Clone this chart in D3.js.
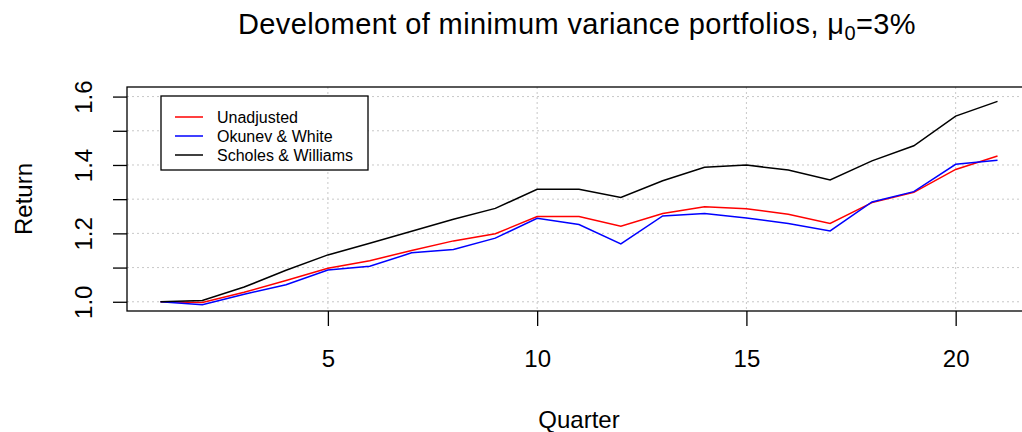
<!DOCTYPE html>
<html>
<head>
  <style>
  body { margin: 0; background: #fff; }
  text { font-family: "Liberation Sans", Arial, sans-serif; }
  </style>
  <script src="https://cdn.jsdelivr.net/npm/d3@7"></script>
</head>
<body>
  <script>
  // quarters 1..21
  var quarters = d3.range(1, 22);
  var unadjusted = [1.000, 0.998, 1.028, 1.062, 1.098, 1.120, 1.150, 1.178, 1.199, 1.249, 1.249, 1.221, 1.258, 1.278, 1.272, 1.256, 1.229, 1.290, 1.320, 1.387, 1.426];
  var okunevWhite = [1.000, 0.991, 1.022, 1.050, 1.093, 1.104, 1.143, 1.153, 1.186, 1.244, 1.226, 1.169, 1.251, 1.258, 1.245, 1.229, 1.207, 1.292, 1.322, 1.402, 1.414];
  var scholesWilliams = [1.000, 1.004, 1.043, 1.092, 1.137, 1.171, 1.206, 1.241, 1.273, 1.329, 1.329, 1.305, 1.354, 1.393, 1.400, 1.385, 1.356, 1.412, 1.456, 1.543, 1.586];
  var seriesNames = ["Unadjusted", "Okunev & White", "Scholes & Williams"];
  var seriesColors = ["#ff0000", "#0000ff", "#000000"];
  var xTicks = [5, 10, 15, 20];
  var yTicks = [1.0, 1.1, 1.2, 1.3, 1.4, 1.5, 1.6];
  var yLabels = [1.0, 1.2, 1.4, 1.6];

  var canvasWidth = 1022;
  var canvasHeight = 432;
  var box = {left: 127, top: 87, right: 1031, bottom: 311};

  var svg = d3.select("body")
                .append("svg")
                .attr("width", canvasWidth)
                .attr("height", canvasHeight);

  var x = d3.scaleLinear().domain([0.2, 21.8]).range([box.left, box.right]);
  var y = d3.scaleLinear().domain([0.973, 1.628]).range([box.bottom, box.top]);

  // grid
  svg.append("g").selectAll("line")
      .data(yTicks).enter().append("line")
      .attr("x1", box.left).attr("x2", box.right)
      .attr("y1", function(d) { return y(d); }).attr("y2", function(d) { return y(d); })
      .attr("stroke", "#c8c8c8").attr("stroke-dasharray", "2,3");
  svg.append("g").selectAll("line")
      .data(xTicks).enter().append("line")
      .attr("y1", box.top).attr("y2", box.bottom)
      .attr("x1", function(d) { return x(d); }).attr("x2", function(d) { return x(d); })
      .attr("stroke", "#c8c8c8").attr("stroke-dasharray", "2,3");

  // lines
  var data = [unadjusted, okunevWhite, scholesWilliams];
  var line = d3.line()
      .x(function(d, i) { return x(quarters[i]); })
      .y(function(d) { return y(d); });
  svg.append("g").selectAll("path")
      .data(data).enter().append("path")
      .attr("d", line)
      .attr("fill", "none")
      .attr("stroke", function(d, i) { return seriesColors[i]; })
      .attr("stroke-width", 1.5);

  // box
  svg.append("rect")
      .attr("x", box.left).attr("y", box.top)
      .attr("width", box.right - box.left).attr("height", box.bottom - box.top)
      .attr("fill", "none").attr("stroke", "#000").attr("stroke-width", 1.3);

  // x axis
  var xAxis = svg.append("g")
      .attr("transform", "translate(0," + box.bottom + ")")
      .call(d3.axisBottom(x).tickValues(xTicks).tickSize(15));
  xAxis.select(".domain").remove();
  xAxis.selectAll("line").attr("stroke-width", 1.3);
  xAxis.selectAll("text")
      .attr("font-size", 24).attr("fill", "#000")
      .style("font-family", "Liberation Sans, Arial, sans-serif")
      .attr("y", 56).attr("dy", 0);

  // y axis
  var yAxis = svg.append("g")
      .attr("transform", "translate(" + box.left + ",0)")
      .call(d3.axisLeft(y).tickValues(yTicks).tickSize(14)
        .tickFormat(function(d) { return yLabels.some(function(v) { return Math.abs(v - d) < 1e-9; }) ? d3.format(".1f")(d) : ""; }));
  yAxis.select(".domain").remove();
  yAxis.selectAll("line").attr("stroke-width", 1.3);
  yAxis.selectAll("text")
      .attr("font-size", 24).attr("fill", "#000")
      .style("font-family", "Liberation Sans, Arial, sans-serif")
      .attr("text-anchor", "middle")
      .attr("x", 0).attr("y", 0).attr("dy", 0)
      .attr("transform", "translate(-35,0) rotate(-90)");

  // axis titles
  svg.append("text")
      .attr("x", (box.left + box.right) / 2).attr("y", 428)
      .attr("text-anchor", "middle").attr("font-size", 24)
      .text("Quarter");
  svg.append("text")
      .attr("transform", "translate(32," + ((box.top + box.bottom) / 2) + ") rotate(-90)")
      .attr("text-anchor", "middle").attr("font-size", 24)
      .text("Return");

  // title
  var title = svg.append("text")
      .attr("x", 577).attr("y", 34)
      .attr("text-anchor", "middle").attr("font-size", 29)
      .attr("letter-spacing", 0.4);
  title.append("tspan").text("Develoment of minimum variance portfolios, \u03bc");
  title.append("tspan").attr("font-size", 20).attr("dy", 6).text("0");
  title.append("tspan").attr("dy", -6).text("=3%");

  // legend
  var legend = svg.append("g");
  legend.append("rect")
      .attr("x", 161).attr("y", 96).attr("width", 207).attr("height", 74)
      .attr("fill", "#fff").attr("stroke", "#000").attr("stroke-width", 1.3);
  var items = legend.selectAll("g.item")
      .data(seriesNames).enter().append("g")
      .attr("transform", function(d, i) { return "translate(0," + (117 + i * 19) + ")"; });
  items.append("line")
      .attr("x1", 175).attr("x2", 203)
      .attr("stroke", function(d, i) { return seriesColors[i]; })
      .attr("stroke-width", 1.5);
  items.append("text")
      .attr("x", 217).attr("dy", "0.35em")
      .attr("font-size", 16)
      .text(function(d) { return d; });
  </script>
</body>
</html>
